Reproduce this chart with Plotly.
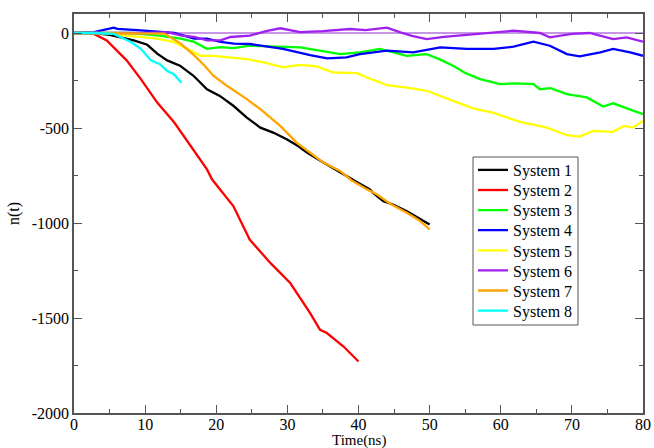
import plotly.graph_objects as go

names = ["System 1", "System 2", "System 3", "System 4", "System 5", "System 6", "System 7", "System 8"]
colors = ["#000000", "#ff0000", "#00ff00", "#0000ff", "#ffff00", "#a020f0", "#ffa500", "#00ffff"]

t1 = [0, 3, 5, 7, 8.4, 10.3, 11.7, 13.1, 14.9, 16.8, 18.7, 20.5, 22.4, 24.3, 26.2, 28, 29.9, 31.5, 32.8, 35, 37.4, 40, 41.6, 42, 43.5, 45, 46.8, 48.5, 50]
n1 = [0, 0, -10, -25, -39, -62, -109, -144, -172, -225, -296, -331, -383, -445, -498, -524, -559, -595, -630, -680, -735, -790, -823, -840, -885, -905, -938, -975, -1008]

t2 = [0, 2.8, 4.6, 6, 7.4, 9.4, 11.7, 14.1, 16.4, 18.7, 19.4, 20.5, 22.4, 24.7, 27.6, 30.4, 33.2, 34.6, 35.5, 37.9, 40]
n2 = [0, -5, -39, -92, -144, -243, -366, -471, -595, -718, -770, -823, -911, -1087, -1210, -1316, -1474, -1562, -1578, -1650, -1729]

t3 = [0, 8, 11.7, 15, 16.9, 18.7, 20.6, 22.4, 24.7, 28, 31.8, 35, 37.4, 40.2, 43, 46.8, 49.6, 51.5, 53.3, 55, 57.1, 59.9, 62, 64.6, 65.5, 67, 69.3, 72.1, 74.4, 75.8, 78.6, 80]
n3 = [0, 0, -12, -30, -47, -83, -74, -80, -67, -70, -76, -95, -111, -102, -84, -120, -111, -140, -172, -210, -243, -269, -265, -269, -296, -290, -322, -339, -387, -370, -410, -427]

t4 = [0, 2.8, 5.6, 6.1, 9.4, 12.2, 14.1, 16.9, 18.7, 20.6, 22.5, 24.7, 29.4, 33.2, 35.6, 38.3, 40.2, 44, 47.7, 51.5, 55.2, 59, 61.8, 64.6, 66.9, 69.3, 71.1, 74, 75.8, 78.2, 80]
n4 = [0, 5, 28, 22, 14, 5, 0, -30, -30, -47, -56, -58, -84, -116, -134, -128, -111, -93, -102, -76, -84, -84, -72, -46, -67, -111, -123, -102, -84, -102, -120]

t5 = [0, 5, 7.4, 11.7, 14.1, 15.9, 17.8, 19.6, 21.1, 24.3, 26.7, 29.4, 31.8, 34, 36.4, 39.8, 41.2, 44, 46.8, 49.6, 53.3, 56.1, 58.9, 62.7, 66.5, 69.3, 71.1, 73, 75.8, 77.3, 78.6, 80]
n5 = [0, 0, -14, -30, -48, -83, -120, -120, -125, -137, -155, -181, -168, -175, -207, -211, -234, -274, -287, -304, -357, -397, -419, -468, -498, -538, -545, -515, -520, -489, -498, -463]

t6 = [0, 5, 10, 13.1, 15, 16.9, 18.7, 20.6, 22, 24.7, 27, 29, 31.8, 35, 38.8, 41, 44, 45.8, 47.5, 49.6, 52, 55.2, 58, 61.8, 65.5, 66.9, 70, 72.5, 75.8, 77.7, 80]
n6 = [0, 0, 0, 5, -12, -21, -39, -39, -21, -14, 10, 25, 5, 10, 21, 15, 28, 5, -15, -32, -20, -10, 0, 12, 0, -23, -5, 0, -32, -23, -46]

t7 = [0, 8, 12.7, 15, 16.9, 18.3, 19.6, 21.5, 24.3, 26.2, 29, 31.3, 33.2, 35, 37.4, 39, 41.2, 42.6, 44.5, 46.8, 48.5, 50]
n7 = [0, 0, -3, -56, -118, -170, -225, -278, -348, -401, -489, -577, -630, -680, -726, -775, -823, -850, -900, -946, -985, -1034]

t8 = [0, 3, 5.6, 8, 9.4, 10.8, 12.1, 13.1, 14, 15.1]
n8 = [0, 0, -5, -47, -83, -144, -164, -200, -216, -262]

zero_line_t = [0, 80]
zero_line_n = [0, 0]

series = [(t1, n1), (t2, n2), (t3, n3), (t4, n4), (t5, n5), (t6, n6), (t7, n7), (t8, n8)]

x_ticks = [0, 10, 20, 30, 40, 50, 60, 70, 80]
y_ticks = [0, -500, -1000, -1500, -2000]

FONT = "Liberation Serif, Times New Roman, serif"

# figure / plot-area geometry in pixels
W, H = 654, 448
ML, MR, MT, MB = 74, 11, 14, 35
PW, PH = W - ML - MR, H - MT - MB

def px_x(p):
    return (p - ML) / PW

def px_y(p):
    return (H - MB - p) / PH

fig = go.Figure()
fig.add_trace(go.Scatter(x=zero_line_t, y=zero_line_n, mode="lines",
                         line=dict(color="#c896e6", width=2), showlegend=False, hoverinfo="skip"))

legend_layouts = {}
for i, ((t, n), name, c) in enumerate(zip(series, names, colors)):
    lg = "legend" if i == 0 else f"legend{i + 1}"
    fig.add_trace(go.Scatter(x=t, y=n, mode="lines", name=name, legend=lg,
                             line=dict(color=c, width=2.3)))
    legend_layouts[lg] = dict(
        x=px_x(473), y=px_y(170 + 20.1 * i), xanchor="left", yanchor="middle",
        borderwidth=0, bgcolor="rgba(0,0,0,0)", itemwidth=30,
        font=dict(family=FONT, size=16, color="black"),
    )

axis_common = dict(
    showgrid=False, zeroline=False, showline=True, linecolor="#555555", linewidth=1.5,
    mirror="allticks", ticks="inside", ticklen=8, tickwidth=1.2, tickcolor="#555555",
    tickfont=dict(family=FONT, size=16, color="black"), automargin=False,
)

fig.update_layout(
    width=W, height=H,
    margin=dict(l=ML, r=MR, t=MT, b=MB),
    paper_bgcolor="white", plot_bgcolor="white",
    font=dict(family=FONT, color="black"),
    xaxis=dict(range=[0, 80], tickvals=x_ticks, ticktext=[str(v) for v in x_ticks],
               minor=dict(dtick=5, ticks="inside", ticklen=4, tickcolor="#555555", tickwidth=1.2),
               ticklabelstandoff=-4,
               **axis_common),
    yaxis=dict(range=[-2000, 100], tickvals=y_ticks, ticktext=[str(v) for v in y_ticks],
               minor=dict(dtick=250, tick0=0, ticks="inside", ticklen=4, tickcolor="#555555", tickwidth=1.2),
               title=dict(text="n(t)", font=dict(family=FONT, size=16), standoff=8),
               **axis_common),
    shapes=[dict(type="rect", xref="paper", yref="paper",
                 x0=px_x(473), x1=px_x(578), y0=px_y(325), y1=px_y(157),
                 line=dict(color="#555555", width=1), fillcolor="white", layer="below")],
    annotations=[dict(text="Time(ns)", xref="paper", yref="paper", x=0.5, y=px_y(440.5),
                      xanchor="center", yanchor="middle", showarrow=False,
                      font=dict(family=FONT, size=15, color="black"))],
    showlegend=True,
    **legend_layouts,
)

fig.write_html("out.html", config={"displayModeBar": False},
               post_script="document.body.style.margin='0';document.body.style.overflow='hidden';")
